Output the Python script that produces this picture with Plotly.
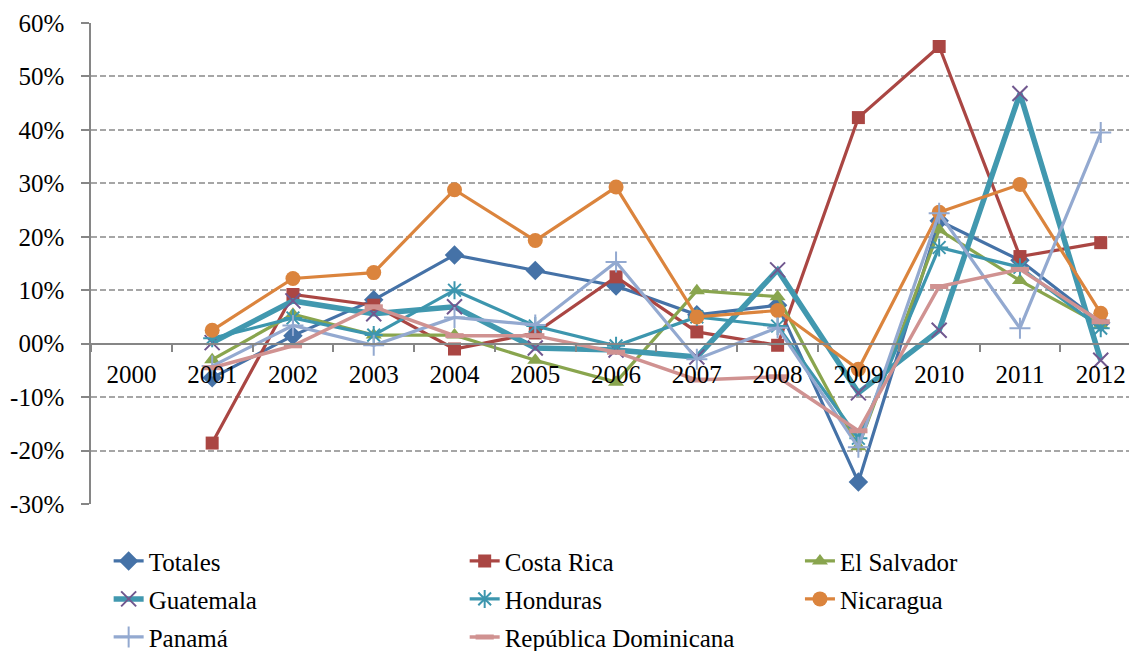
import plotly.graph_objects as go

# Year-over-year variation (%) by country
years = [str(y) for y in range(2000, 2013)]

totales = [None, -6.4, 1.5, 8.2, 16.6, 13.7, 10.8, 5.4, 7.2, -25.9, 23.0, 15.6, 3.9]
costa_rica = [None, -18.6, 9.2, 7.2, -1.0, 2.0, 12.5, 2.2, -0.3, 42.3, 55.6, 16.3, 18.9]
el_salvador = [None, -3.0, 5.5, 1.6, 1.6, -3.1, -7.2, 9.9, 8.8, -19.3, 21.3, 11.8, 3.5]
guatemala = [None, 0.2, 8.0, 5.6, 6.9, -0.8, -1.2, -2.5, 13.8, -9.2, 2.5, 46.8, -3.1]
honduras = [None, 1.0, 4.8, 1.6, 10.0, 3.3, -0.4, 5.0, 3.3, -17.7, 18.0, 14.3, 2.9]
nicaragua = [None, 2.5, 12.2, 13.3, 28.8, 19.3, 29.3, 5.0, 6.2, -4.8, 24.6, 29.8, 5.7]
panama = [None, -4.2, 3.4, -0.3, 4.9, 3.5, 15.3, -2.9, 3.0, -19.4, 24.4, 2.9, 39.5]
rep_dominicana = [None, -4.5, -0.4, 6.9, 1.5, 1.5, -1.6, -6.8, -6.2, -16.3, 10.7, 13.9, 4.1]

y_ticks = [-30, -20, -10, 0, 10, 20, 30, 40, 50, 60]
y_tick_text = ["-30%", "-20%", "-10%", "00%", "10%", "20%", "30%", "40%", "50%", "60%"]

FONT = "Times New Roman"

series = [
    # name, values, line color, line width, marker symbol, marker color, marker size, legend
    ("Totales", totales, "#4572A7", 3.2, "diamond", "#4572A7", 15, "legend"),
    ("Costa Rica", costa_rica, "#AA4643", 3.2, "square", "#AA4643", 13, "legend2"),
    ("El Salvador", el_salvador, "#89A54E", 3.2, "triangle-up", "#89A54E", 14, "legend3"),
    ("Guatemala", guatemala, "#4198AF", 5.5, "x-thin-open", "#71588F", 15, "legend"),
    ("Honduras", honduras, "#3D96AE", 3.2, "asterisk-open", "#3D96AE", 15, "legend2"),
    ("Nicaragua", nicaragua, "#DB843D", 3.2, "circle", "#DB843D", 15, "legend3"),
    ("Panamá", panama, "#93A9D0", 3.2, "cross-thin-open", "#93A9D0", 15, "legend"),
    ("República Dominicana", rep_dominicana, "#D09291", 3.5, "line-ew-open", "#D09291", 13, "legend2"),
]

fig = go.Figure()
for name, vals, lcolor, lwidth, sym, mcolor, msize, leg in series:
    marker = dict(symbol=sym, size=msize, color=mcolor)
    if sym.endswith("-open"):
        marker["line"] = dict(color=mcolor, width=5 if sym.startswith("line") else 2)
    else:
        marker["line"] = dict(width=0)
    fig.add_trace(go.Scatter(
        x=years, y=vals, name=name, legendgroup=name, mode="lines+markers",
        line=dict(color=lcolor, width=lwidth),
        marker=marker, legend=leg, connectgaps=False, cliponaxis=False,
    ))

legend_common = dict(
    orientation="v", xanchor="left", yanchor="top",
    font=dict(family=FONT, size=25, color="#000000"),
    bgcolor="rgba(0,0,0,0)", tracegroupgap=2.5, itemwidth=30,
)

fig.update_layout(
    width=1129, height=651,
    margin=dict(l=91, r=0, t=23, b=147, autoexpand=False),
    paper_bgcolor="#FFFFFF", plot_bgcolor="#FFFFFF",
    font=dict(family=FONT, size=25, color="#000000"),
    showlegend=True,
    legend=dict(x=0.017, y=-0.071, **legend_common),
    legend2=dict(x=0.36, y=-0.071, **legend_common),
    legend3=dict(x=0.683, y=-0.071, **legend_common),
    xaxis=dict(
        type="category", categoryorder="array", categoryarray=years,
        range=[-0.5, 12.35], anchor="free", position=1 / 3,
        showline=True, linecolor="#868686", linewidth=1.5,
        ticks="outside", tickson="boundaries", ticklen=8, tickwidth=1.5,
        tickcolor="#868686", showgrid=False, zeroline=False,
        ticklabelstandoff=9,
        tickfont=dict(family=FONT, size=25, color="#000000"),
    ),
    yaxis=dict(
        range=[-30, 60], tickvals=y_ticks, ticktext=y_tick_text,
        showgrid=True, gridcolor="#A6A6A6", gridwidth=1.5, griddash="6px,3px",
        zeroline=False, showline=True, linecolor="#868686", linewidth=1.5,
        ticks="outside", ticklen=8, tickwidth=1.5, tickcolor="#868686",
        ticklabelstandoff=12,
        tickfont=dict(family=FONT, size=25, color="#000000"),
    ),
)

fig.write_html("out.html")
